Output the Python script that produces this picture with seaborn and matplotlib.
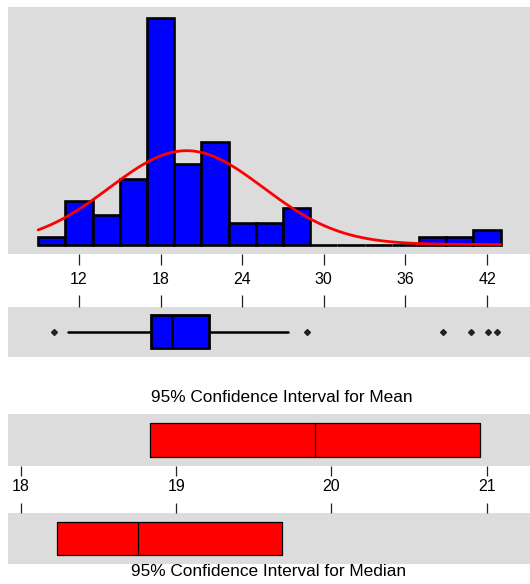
import numpy as np
import matplotlib
matplotlib.use("Agg")
import matplotlib.pyplot as plt
import seaborn as sns

# ---- data -------------------------------------------------------------
bin_edges = [9, 11, 13, 15, 17, 19, 21, 23, 25, 27, 29, 31, 33, 35, 37, 39, 41, 43]
bin_counts = [1, 6, 4, 9, 31, 11, 14, 3, 3, 5, 0, 0, 0, 0, 1, 1, 2]

fit_mean = 19.9
fit_sd = 5.65

box_q1 = 17.29
box_median = 18.84
box_q3 = 21.58
whisker_low = 11.21
whisker_high = 27.39
outliers = [10.16, 28.79, 38.79, 40.82, 42.1, 42.76]

mean_ci = [18.834, 20.955]
mean_est = 19.892
median_ci = [18.232, 19.682]
median_est = 18.753

main_ticks = [12, 18, 24, 30, 36, 42]
ci_ticks = [18, 19, 20, 21]

# ---- style ------------------------------------------------------------
sns.set_theme(style="white")
plt.rcParams["font.family"] = ["Liberation Sans", "DejaVu Sans"]
panel_bg = "#DCDCDC"
tick_col = "#222222"

fig = plt.figure(figsize=(5.3, 5.84), dpi=100)
W, H = 530.0, 584.0


def panel(top, bottom):
    ax = fig.add_axes([8 / W, 1 - bottom / H, 1 - 8 / W, (bottom - top) / H])
    ax.set_facecolor(panel_bg)
    for s in ax.spines.values():
        s.set_visible(False)
    return ax


# ---- histogram with fitted normal curve --------------------------------
ax_h = panel(7, 254)
centers = [(a + b) / 2 for a, b in zip(bin_edges[:-1], bin_edges[1:])]
sns.histplot(x=centers, weights=bin_counts, bins=bin_edges, ax=ax_h,
             color="#0000FF", edgecolor="black", linewidth=1.9, alpha=1.0)
n_total = sum(bin_counts)
bw = bin_edges[1] - bin_edges[0]
xs = np.linspace(bin_edges[0], bin_edges[-1], 300)
ys = n_total * bw / (fit_sd * np.sqrt(2 * np.pi)) * np.exp(-0.5 * ((xs - fit_mean) / fit_sd) ** 2)
ax_h.plot(xs, ys, color="#FF0000", lw=2.0)
ax_h.set_xlim(6.78, 45.16)
ax_h.set_ylim(-1.3, 32.53)
ax_h.set_ylabel("")
ax_h.set_xticks(main_ticks)
ax_h.set_xticklabels([str(t) for t in main_ticks])
ax_h.set_yticks([])
ax_h.tick_params(axis="x", bottom=True, direction="out", length=8, width=0.9,
                 color=tick_col, labelsize=11.5, pad=5, labelcolor="black")

# ---- boxplot ------------------------------------------------------------
ax_b = panel(307, 357)
stats = [dict(med=box_median, q1=box_q1, q3=box_q3, whislo=whisker_low,
              whishi=whisker_high, fliers=outliers)]
ax_b.bxp(stats, positions=[0], widths=0.66, orientation="horizontal",
         patch_artist=True, showcaps=False,
         boxprops=dict(facecolor="#0000FF", edgecolor="black", linewidth=2.0),
         whiskerprops=dict(color="black", linewidth=1.8),
         medianprops=dict(color="black", linewidth=2.0),
         flierprops=dict(marker="D", markersize=3, markerfacecolor="#222222",
                         markeredgecolor="#222222"))
ax_b.set_xlim(6.78, 45.16)
ax_b.set_ylim(-0.5, 0.5)
ax_b.set_yticks([])
ax_b.set_xticks(main_ticks)
ax_b.xaxis.set_ticks_position("top")
ax_b.tick_params(axis="x", top=True, bottom=False, labeltop=False, labelbottom=False,
                 direction="out", length=9, width=0.9, color=tick_col)

# ---- confidence intervals ---------------------------------------------
ax_m = panel(414, 466)
ax_d = panel(513, 564)
for ax, ci, est in ((ax_m, mean_ci, mean_est), (ax_d, median_ci, median_est)):
    ax.barh(0, ci[1] - ci[0], left=ci[0], height=0.64, color="#FF0000",
            edgecolor="black", linewidth=0.9)
    ax.plot([est, est], [-0.32, 0.32], color="black", lw=0.9)
    ax.set_xlim(17.916, 21.279)
    ax.set_ylim(-0.5, 0.5)
    ax.set_yticks([])
    ax.set_xticks(ci_ticks)

ax_m.set_xticklabels([str(t) for t in ci_ticks])
ax_m.tick_params(axis="x", bottom=True, direction="out", length=7.5, width=0.9,
                 color=tick_col, labelsize=11.5, pad=2, labelcolor="black")
ax_d.xaxis.set_ticks_position("top")
ax_d.tick_params(axis="x", top=True, bottom=False, labeltop=False, labelbottom=False,
                 direction="out", length=7.5, width=0.9, color=tick_col)

fig.text(282 / W, 1 - 398 / H, "95% Confidence Interval for Mean",
         ha="center", va="center", fontsize=12.4, color="black")
fig.text(269 / W, 1 - 572 / H, "95% Confidence Interval for Median",
         ha="center", va="center", fontsize=12.4, color="black")

fig.savefig("out.png", dpi=100, facecolor="white")
